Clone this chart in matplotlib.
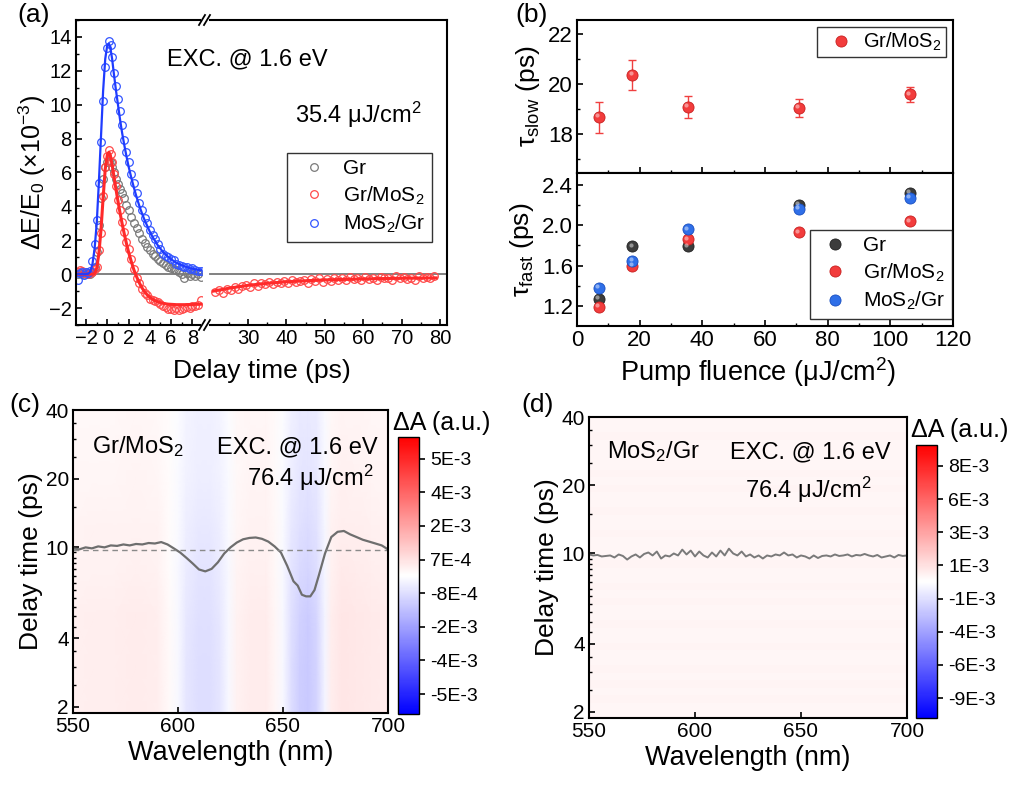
import numpy as np
import matplotlib
matplotlib.use("Agg")
import matplotlib.pyplot as plt
from matplotlib.colors import LinearSegmentedColormap, FuncNorm
from matplotlib.lines import Line2D
from matplotlib.ticker import MultipleLocator, FixedLocator, NullFormatter, LogLocator
import matplotlib.transforms as mtransforms

plt.rcParams["font.family"] = ["Liberation Sans", "DejaVu Sans"]
plt.rcParams["mathtext.fontset"] = "custom"
plt.rcParams["mathtext.rm"] = "Liberation Sans"
plt.rcParams["mathtext.it"] = "Liberation Sans:italic"
plt.rcParams["mathtext.bf"] = "Liberation Sans:bold"
plt.rcParams["axes.linewidth"] = 1.5
plt.rcParams["xtick.direction"] = "in"
plt.rcParams["ytick.direction"] = "in"
plt.rcParams["xtick.major.size"] = 4
plt.rcParams["ytick.major.size"] = 4
plt.rcParams["xtick.minor.size"] = 2.2
plt.rcParams["ytick.minor.size"] = 2.2
plt.rcParams["xtick.major.width"] = 1.2
plt.rcParams["ytick.major.width"] = 1.2
plt.rcParams["xtick.minor.width"] = 1.0
plt.rcParams["ytick.minor.width"] = 1.0

# ---------------- data: panel (a) ----------------
t_short = [-2.8, -2.6, -2.4, -2.2, -2.0, -1.8, -1.6, -1.4, -1.2, -1.0, -0.8, -0.6, -0.4, -0.2,
           0.0, 0.15, 0.3, 0.45, 0.6, 0.8, 1.0, 1.2, 1.4, 1.6, 1.8, 2.0,
           2.25, 2.5, 2.75, 3.0, 3.25, 3.5, 3.75, 4.0, 4.25, 4.5, 4.75, 5.0, 5.25, 5.5,
           5.75, 6.0, 6.25, 6.5, 6.75, 7.0, 7.25, 7.5, 7.75, 8.0, 8.25, 8.5, 8.8]

gr_data = [0.0, 0.05, 0.0, 0.05, 0.0, 0.05, 0.0, 0.1, 0.4, 1.3, 2.9, 4.5, 5.6, 6.3,
           6.6, 6.7, 6.6, 6.3, 6.0, 5.6, 5.3, 5.0, 4.8, 4.5, 4.1, 3.8,
           3.4, 3.0, 2.7, 2.4, 2.1, 1.85, 1.6, 1.4, 1.2, 1.05, 0.9, 0.8, 0.65, 0.55,
           0.45, 0.35, 0.3, 0.25, 0.1, 0.0, -0.2, 0.05, -0.1, 0.0, -0.1, 0.0, -0.15]

grmos_data = [0.15, 0.25, 0.2, 0.05, 0.1, 0.0, 0.05, 0.1, 0.3, 0.45, 1.4, 2.4, 4.6, 6.3,
              7.0, 7.35, 7.1, 6.6, 5.9, 5.2, 4.4, 3.8, 3.1, 2.5, 1.9, 1.5,
              0.9, 0.3, -0.2, -0.55, -0.9, -1.1, -1.25, -1.45, -1.5, -1.6, -1.65, -1.75, -1.85, -1.95,
              -2.05, -2.05, -2.1, -2.0, -2.1, -2.05, -2.0, -1.95, -2.0, -1.9, -1.85, -1.8, -1.55]
grmos_fit = [0.0, 0.0, 0.0, 0.0, 0.0, 0.0, 0.0, 0.0, 0.05, 0.35, 1.2, 2.6, 4.5, 6.2,
             7.05, 7.2, 6.95, 6.45, 5.85, 5.05, 4.3, 3.6, 2.95, 2.35, 1.8, 1.3,
             0.75, 0.25, -0.15, -0.5, -0.8, -1.03, -1.22, -1.37, -1.48, -1.57, -1.63, -1.68, -1.72, -1.75,
             -1.77, -1.78, -1.79, -1.8, -1.8, -1.8, -1.8, -1.8, -1.79, -1.79, -1.78, -1.78, -1.77]

mosgr_data = [-0.35, 0.05, 0.1, -0.05, 0.1, 0.05, 0.2, 0.8, 1.8, 3.2, 5.4, 7.8, 10.2, 12.2,
              13.35, 13.75, 13.55, 12.8, 11.9, 11.1, 10.35, 9.6, 8.8, 7.9, 7.2, 6.6,
              5.9, 5.4, 4.8, 4.2, 3.8, 3.3, 3.0, 2.6, 2.3, 2.1, 1.8, 1.5, 1.2, 1.1,
              1.0, 0.9, 0.85, 0.6, 0.55, 0.5, 0.4, 0.45, 0.3, 0.35, 0.25, 0.2, 0.2]
mosgr_fit = [0.0, 0.0, 0.0, 0.0, 0.0, 0.02, 0.15, 0.6, 1.5, 3.0, 5.4, 8.1, 10.8, 12.7,
             13.55, 13.6, 13.3, 12.7, 11.9, 10.9, 10.0, 9.1, 8.3, 7.6, 6.95, 6.35,
             5.7, 5.1, 4.55, 4.05, 3.6, 3.2, 2.85, 2.5, 2.2, 1.95, 1.7, 1.5, 1.3, 1.15,
             1.0, 0.88, 0.77, 0.67, 0.59, 0.52, 0.46, 0.41, 0.36, 0.32, 0.29, 0.26, 0.23]

t_long = [21.5, 22.5, 23.5, 24.5, 25.5, 26.5, 27.5, 28.5, 29.5, 30.5, 31.5, 32.5, 33.5, 34.5,
          35.5, 36.5, 37.5, 38.5, 39.5, 40.5, 41.5, 42.5, 43.5, 44.5, 45.5, 46.5, 47.5, 48.5,
          49.5, 50.5, 51.5, 52.5, 53.5, 54.5, 55.5, 56.5, 57.5, 58.5, 59.5, 60.5, 61.5, 62.5,
          63.5, 64.5, 65.5, 66.5, 67.5, 68.5, 69.5, 70.5, 71.5, 72.5, 73.5, 74.5, 75.5, 76.5,
          77.5, 78.5]
grmos_long = [-1.05, -0.95, -1.1, -0.85, -0.95, -0.75, -0.85, -0.7, -0.65, -0.75, -0.55, -0.7, -0.55, -0.6,
              -0.45, -0.6, -0.45, -0.55, -0.4, -0.5, -0.35, -0.45, -0.4, -0.35, -0.5, -0.3, -0.4, -0.25,
              -0.45, -0.3, -0.4, -0.2, -0.35, -0.25, -0.35, -0.15, -0.3, -0.25, -0.35, -0.15, -0.3, -0.2,
              -0.35, -0.15, -0.25, -0.2, -0.35, -0.1, -0.25, -0.15, -0.3, -0.2, -0.35, -0.1, -0.25, -0.15,
              -0.25, -0.1]
t_long_fit = [21, 25, 30, 35, 40, 45, 50, 55, 60, 65, 70, 75, 79]
grmos_long_fit = [-1.0, -0.83, -0.66, -0.54, -0.45, -0.39, -0.34, -0.31, -0.28, -0.26, -0.24, -0.23, -0.22]

# ---------------- data: panel (b) ----------------
fluence = [7.1, 17.7, 35.4, 70.8, 106.2]
tau_slow = [18.68, 20.37, 19.09, 19.05, 19.59]
tau_slow_err = [0.62, 0.59, 0.45, 0.37, 0.29]
tau_fast_gr = [1.27, 1.79, 1.79, 2.20, 2.32]
tau_fast_grmos = [1.19, 1.60, 1.86, 1.93, 2.04]
tau_fast_mosgr = [1.38, 1.65, 1.96, 2.16, 2.27]

# ---------------- data: panel (c) ----------------
wl_spec = [550, 560, 570, 580, 590, 596, 600, 604, 610, 615, 620, 624, 628, 635, 642, 646,
           650, 654, 658, 662, 666, 670, 673, 678, 685, 692, 700]
spec_c = [0.35, 0.4, 0.4, 0.45, 0.4, 0.1, -0.2, -0.6, -0.8, -0.8, -0.6, -0.2, 0.3, 0.45, 0.45, 0.2,
          -0.2, -0.8, -1.1, -1.2, -1.0, -0.3, 0.4, 0.6, 0.55, 0.5, 0.45]   # x1e-3
t_map = [1.88, 3, 5, 8, 12, 20, 40]
decay_c = [1.0, 1.0, 0.95, 0.8, 0.7, 0.55, 0.45]

wl_line_c = [550, 553, 556, 559, 562, 565, 568, 571, 574, 577, 580, 583, 586, 589, 592, 595, 598,
             601, 604, 607, 610, 613, 616, 619, 622, 625, 628, 631, 634, 637, 640, 643, 646, 649,
             652, 655, 657, 659, 661, 663, 665, 667, 670, 673, 676, 679, 682, 685, 688, 691, 694,
             697, 700]
tau_line_c = [9.9, 9.8, 10.0, 9.9, 10.1, 10.0, 10.2, 10.15, 10.3, 10.2, 10.35, 10.3, 10.45, 10.4,
              10.55, 10.3, 9.9, 9.5, 9.0, 8.5, 8.0, 7.85, 8.05, 8.6, 9.4, 10.0, 10.5, 10.85, 11.0,
              11.05, 10.9, 10.6, 10.1, 9.5, 8.3, 7.1, 6.8, 6.2, 6.1, 6.1, 6.5, 7.5, 9.4, 11.1, 11.7,
              11.8, 11.4, 11.1, 10.8, 10.6, 10.4, 10.2, 9.8]
tau_ref_c = 9.73
cbar_c_ticks = [-5e-3, -4e-3, -2e-3, -8e-4, 7e-4, 2e-3, 4e-3, 5e-3]
cbar_c_labels = ["-5E-3", "-4E-3", "-2E-3", "-8E-4", "7E-4", "2E-3", "4E-3", "5E-3"]

# ---------------- data: panel (d) ----------------
tau_line_d = [9.9, 9.8, 9.85, 9.7, 9.75, 9.8, 9.6, 9.9, 9.75, 9.4, 9.7, 9.9, 9.6, 9.95, 10.1, 9.8,
              10.2, 9.5, 9.8, 9.7, 10.0, 9.8, 10.4, 9.9, 10.3, 9.7, 10.2, 9.8, 9.6, 10.1, 9.7, 10.3,
              9.8, 10.5, 10.0, 9.8, 10.2, 9.7, 9.9, 9.6, 9.8, 9.5, 9.8, 9.7, 9.9, 9.8, 10.1, 9.8,
              9.9, 9.6, 9.8, 9.7, 9.5, 9.8, 9.55, 9.75, 9.8, 9.7, 9.9, 9.75, 9.8, 9.9, 9.7, 9.85,
              9.8, 9.95, 9.8, 9.7, 9.85, 9.6, 9.7, 9.8, 9.6, 9.85, 9.75, 9.8]
streak_d = [3.4, 3.0, 3.8, 3.2, 3.6, 2.9, 3.9, 3.3, 3.1, 3.7, 3.4, 3.0, 3.8, 3.5, 3.1, 3.6,
            3.0, 3.7, 3.3, 3.1, 3.8, 3.2, 3.5, 2.9, 3.7, 3.4, 3.1, 3.8, 3.3, 3.0, 3.6, 3.2,
            3.7, 3.1, 3.5, 3.3, 3.0, 3.6, 3.4, 3.2]   # x1e-4
cbar_d_ticks = [-9e-3, -6e-3, -4e-3, -1e-3, 1e-3, 3e-3, 6e-3, 8e-3]
cbar_d_labels = ["-9E-3", "-6E-3", "-4E-3", "-1E-3", "1E-3", "3E-3", "6E-3", "8E-3"]

W, H = 1014, 789
fig = plt.figure(figsize=(W / 100, H / 100), dpi=100)


def box(x0, y0, x1, y1):
    # pixel box (top-left origin) -> figure rect
    return [x0 / W, 1 - y1 / H, (x1 - x0) / W, (y1 - y0) / H]


def fpt(x, y):
    return x / W, 1 - y / H


def label(x, y, s, size=17, ha="left"):
    fig.text(*fpt(x, y), s, fontsize=size, ha=ha, va="center")


C_GRAY = "#7a7a7a"
C_RED = "#ff2a2a"
C_BLUE = "#1f3cff"

# ================= panel (a) =================
ax_l = fig.add_axes(box(76, 20, 203, 325))
ax_r = fig.add_axes(box(203, 20, 447, 325))
for ax in (ax_l, ax_r):
    ax.set_ylim(-3, 15)
ax_l.set_xlim(-2.95, 9.0)
ax_r.set_xlim(18.3, 81.8)

mk = dict(marker="o", ls="none", ms=5.5, mfc="none", mew=0.9)
ax_l.axhline(0, color="#777777", lw=1.3, xmax=0.98, zorder=1)
ax_r.axhline(0, color="#777777", lw=1.3, xmin=0.03, zorder=1)
ax_l.plot(t_short, gr_data, mec=C_GRAY, **mk)
ax_l.plot(t_short, grmos_data, mec="#ff4a4a", **mk)
ax_l.plot(t_short, mosgr_data, mec="#3355ff", **mk)
ax_l.plot(t_short, grmos_fit, color=C_RED, lw=2.2)
ax_l.plot(t_short, mosgr_fit, color=C_BLUE, lw=1.6)
ax_r.plot(t_long, grmos_long, mec="#ff4a4a", **mk)
ax_r.plot(t_long_fit, grmos_long_fit, color=C_RED, lw=2.2)

ax_l.spines["right"].set_visible(False)
ax_r.spines["left"].set_visible(False)
ax_l.spines["top"].set_bounds(-2.95, 8.69)
ax_l.spines["bottom"].set_bounds(-2.95, 8.69)
ax_r.spines["top"].set_bounds(20.0, 81.8)
ax_r.spines["bottom"].set_bounds(20.0, 81.8)
ax_l.xaxis.set_major_locator(FixedLocator([-2, 0, 2, 4, 6, 8]))
ax_l.xaxis.set_minor_locator(FixedLocator([-1, 1, 3, 5, 7]))
ax_r.xaxis.set_major_locator(FixedLocator([30, 40, 50, 60, 70, 80]))
ax_r.xaxis.set_minor_locator(FixedLocator([25, 35, 45, 55, 65, 75]))
ax_l.yaxis.set_major_locator(MultipleLocator(2))
ax_l.yaxis.set_minor_locator(MultipleLocator(1))
ax_r.tick_params(axis="y", which="both", left=False, labelleft=False)
for ax in (ax_l, ax_r):
    ax.tick_params(labelsize=14.5, pad=3)
ax_l.set_ylabel("ΔE/E$_0$ (×10$^{-3}$)", fontsize=18, labelpad=1)

for yb in (20, 325):
    for dx in (0, 5):
        x0, y0 = fpt(199 + dx, yb + 5)
        x1, y1 = fpt(205 + dx, yb - 5)
        fig.add_artist(Line2D([x0, x1], [y0, y1], color="black", lw=1.3))

label(262, 371, "Delay time (ps)", 19, ha="center")
label(167, 59, "EXC. @ 1.6 eV")
label(295, 115, "35.4 μJ/cm$^2$")

h_a = [Line2D([], [], mec=C_GRAY, **mk), Line2D([], [], mec="#ff4a4a", **mk),
       Line2D([], [], mec="#3355ff", **mk)]
leg_a = ax_r.legend(h_a, ["Gr", "Gr/MoS$_2$", "MoS$_2$/Gr"], loc="upper right",
                    bbox_to_anchor=fpt(432, 153), bbox_transform=fig.transFigure,
                    borderaxespad=0, fontsize=15, frameon=True, fancybox=False,
                    edgecolor="black", handletextpad=0.4, labelspacing=0.3,
                    borderpad=0.3, handlelength=2.0)
leg_a.get_frame().set_linewidth(1.0)

# ================= panel (b) =================
ax_u = fig.add_axes(box(577, 20, 953, 173))
ax_d = fig.add_axes(box(577, 173, 953, 326))
for ax in (ax_u, ax_d):
    ax.set_xlim(0, 120)
    ax.xaxis.set_major_locator(MultipleLocator(20))
    ax.xaxis.set_minor_locator(MultipleLocator(10))
    ax.tick_params(labelsize=16, pad=3, top=False, right=False)
ax_u.tick_params(labelbottom=False)
ax_d.tick_params(axis="x", which="both", top=False)
ax_u.set_ylim(16.45, 22.57)
ax_u.yaxis.set_major_locator(MultipleLocator(2))
ax_u.yaxis.set_minor_locator(MultipleLocator(1))
ax_d.set_ylim(1.0, 2.52)
ax_d.yaxis.set_major_locator(FixedLocator([1.2, 1.6, 2.0, 2.4]))
ax_d.yaxis.set_minor_locator(FixedLocator([1.4, 1.8, 2.2]))
ax_d.yaxis.set_major_formatter(plt.FuncFormatter(lambda v, p: f"{v:.1f}"))

hl = mtransforms.ScaledTranslation(-1.3 / 72, 1.3 / 72, fig.dpi_scale_trans)


def balls(ax, x, y, color, edge):
    ax.plot(x, y, "o", ms=8, mfc=color, mec=edge, mew=0.6, zorder=3)
    ax.plot(x, y, "o", ms=3, mfc="white", mec="none", alpha=0.45, zorder=4,
            transform=ax.transData + hl)


ax_u.errorbar(fluence, tau_slow, yerr=tau_slow_err, fmt="none", ecolor="#f04040",
              elinewidth=1.0, capsize=3, capthick=1.0, zorder=2)
balls(ax_u, fluence, tau_slow, "#f23c3c", "#c82020")
balls(ax_d, fluence, tau_fast_gr, "#3c3c3c", "#222222")
balls(ax_d, fluence, tau_fast_grmos, "#f23c3c", "#c82020")
balls(ax_d, fluence, tau_fast_mosgr, "#2f6fe8", "#1a4fc0")

ax_u.set_ylabel("τ$_{\\rm slow}$ (ps)", fontsize=19, labelpad=4)
ax_d.set_ylabel("τ$_{\\rm fast}$ (ps)", fontsize=19, labelpad=4)
label(758, 372, "Pump fluence (μJ/cm$^2$)", 19.5, ha="center")

bmk = dict(marker="o", ls="none", ms=8, mew=0.6)
leg_u = ax_u.legend([Line2D([], [], mfc="#f23c3c", mec="#c82020", **bmk)], ["Gr/MoS$_2$"],
                    loc="upper right", bbox_to_anchor=fpt(946, 27), bbox_transform=fig.transFigure,
                    borderaxespad=0, fontsize=14.5, fancybox=False, edgecolor="black",
                    handletextpad=0.1, borderpad=0.2, handlelength=2.0)
leg_u.get_frame().set_linewidth(1.0)
leg_d = ax_d.legend([Line2D([], [], mfc="#3c3c3c", mec="#222222", **bmk),
                     Line2D([], [], mfc="#f23c3c", mec="#c82020", **bmk),
                     Line2D([], [], mfc="#2f6fe8", mec="#1a4fc0", **bmk)],
                    ["Gr", "Gr/MoS$_2$", "MoS$_2$/Gr"],
                    loc="upper right", bbox_to_anchor=fpt(952, 230), bbox_transform=fig.transFigure,
                    borderaxespad=0, fontsize=15, fancybox=False, edgecolor="black",
                    handletextpad=0.43, borderpad=0.3, handlelength=1.85, labelspacing=0.3)
leg_d.get_frame().set_linewidth(1.0)

# ================= panels (c) and (d) =================
cmap = LinearSegmentedColormap.from_list("bwr_o", ["#0000ff", "#ffffff", "#ff0000"])


def level_norm(ticks, lo_frac, hi_frac):
    step_lo = ticks[1] - ticks[0]
    step_hi = ticks[-1] - ticks[-2]
    vals = [ticks[0] - lo_frac * step_lo] + list(ticks) + [ticks[-1] + hi_frac * step_hi]
    pos = [-lo_frac] + list(range(len(ticks))) + [len(ticks) - 1 + hi_frac]

    def fwd(v):
        return np.interp(v, vals, pos)

    def inv(p):
        return np.interp(p, pos, vals)

    return FuncNorm((fwd, inv), vmin=vals[0], vmax=vals[-1])


def style_map(ax):
    ax.set_yscale("log")
    ax.set_xlim(550, 700)
    ax.set_ylim(1.88, 40)
    ax.set_xticks([550, 600, 650, 700])
    ax.yaxis.set_major_locator(FixedLocator([2, 4, 10, 20, 40]))
    ax.yaxis.set_major_formatter(plt.FuncFormatter(lambda v, p: f"{v:g}"))
    ax.yaxis.set_minor_locator(LogLocator(base=10, subs=np.arange(1, 10, 0.5)))
    ax.yaxis.set_minor_formatter(NullFormatter())
    ax.tick_params(labelsize=15, pad=3)
    ax.tick_params(axis="y", which="minor", length=2.5)
    ax.set_xlabel("Wavelength (nm)", fontsize=19.5, labelpad=3)
    ax.set_ylabel("Delay time (ps)", fontsize=19, labelpad=2)


def style_cbar(cb, ticks, labels):
    cb.set_ticks(ticks, labels=labels)
    cb.ax.tick_params(direction="out", length=4, width=1.2, labelsize=14, pad=4)
    cb.ax.minorticks_off()
    cb.outline.set_linewidth(1.0)


ax_c = fig.add_axes(box(73, 410, 388, 713))
norm_c = level_norm(cbar_c_ticks, 0.59, 0.64)
Zc = np.outer(decay_c, spec_c) * 1e-3
mesh_c = ax_c.pcolormesh(wl_spec, t_map, Zc, cmap=cmap, norm=norm_c, shading="gouraud",
                         rasterized=True)
ax_c.plot(wl_line_c, tau_line_c, color="#6e6e6e", lw=1.6)
ax_c.axhline(tau_ref_c, color="#8a8a8a", lw=1.0, ls=(0, (4, 3)))
style_map(ax_c)
label(92, 447, "Gr/MoS$_2$")
label(217, 447, "EXC. @ 1.6 eV")
label(247, 478, "76.4 μJ/cm$^2$")
cax_c = fig.add_axes(box(398, 437, 419, 714))
cb_c = fig.colorbar(mesh_c, cax=cax_c)
style_cbar(cb_c, cbar_c_ticks, cbar_c_labels)
label(442, 423, "ΔA (a.u.)", 18, ha="center")

ax_dd = fig.add_axes(box(589, 417, 907, 718))
norm_d = level_norm(cbar_d_ticks, 0.6, 0.63)
t_edges_d = np.geomspace(1.88, 40, len(streak_d) + 1)
Zd = np.array(streak_d)[:, None] * 1e-4
mesh_d = ax_dd.pcolormesh([550, 700], t_edges_d, Zd, cmap=cmap, norm=norm_d, shading="flat",
                          rasterized=True)
wl_line_d = np.linspace(550, 700, len(tau_line_d))
ax_dd.plot(wl_line_d, tau_line_d, color="#7a7a7a", lw=1.4)
style_map(ax_dd)
label(607, 452, "MoS$_2$/Gr")
label(730, 452, "EXC. @ 1.6 eV")
label(745, 490, "76.4 μJ/cm$^2$")
cax_d = fig.add_axes(box(916, 445, 937, 718))
cb_d = fig.colorbar(mesh_d, cax=cax_d)
style_cbar(cb_d, cbar_d_ticks, cbar_d_labels)
label(960, 430, "ΔA (a.u.)", 18, ha="center")

# panel labels
for lab, (x, y) in {"(a)": (34, 15), "(b)": (532, 15), "(c)": (25, 405), "(d)": (538, 405)}.items():
    label(x, y, lab, 19, ha="center")

fig.savefig("out.png", dpi=100)
